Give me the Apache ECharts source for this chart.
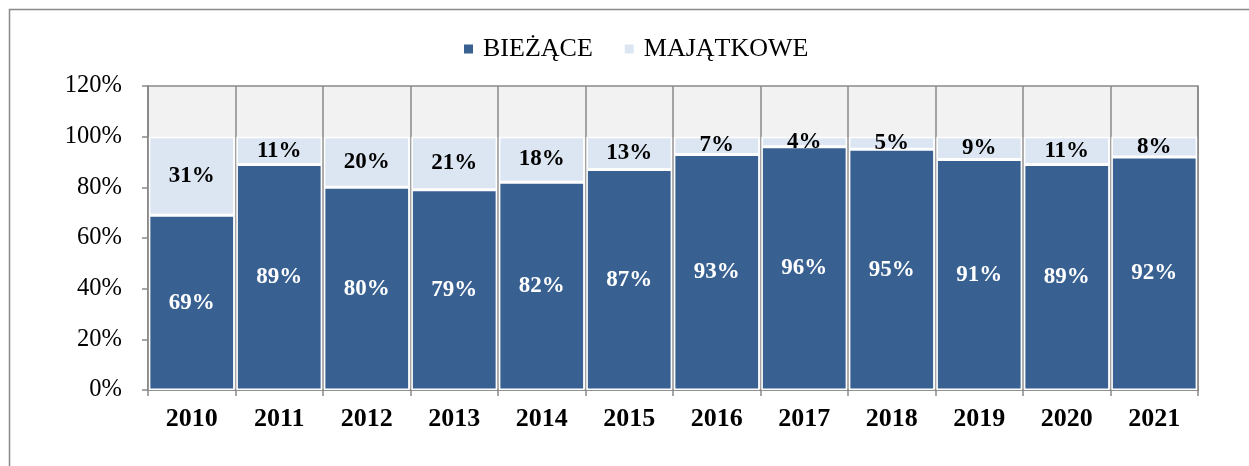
<!DOCTYPE html>
<html>
<head>
<meta charset="utf-8">
<script src="https://cdn.jsdelivr.net/npm/echarts@6/dist/echarts.min.js"></script>
<style>
  html, body { margin: 0; padding: 0; background: #fff; }
  #chart { width: 1249px; height: 466px; }
</style>
</head>
<body>
<div id="chart"></div>
<script>
// lata
var years = ["2010", "2011", "2012", "2013", "2014", "2015", "2016", "2017", "2018", "2019", "2020", "2021"];
// udział wydatków (%)
var biezace = [69, 89, 80, 79, 82, 87, 93, 96, 95, 91, 89, 92];
var majatkowe = [31, 11, 20, 21, 18, 13, 7, 4, 5, 9, 11, 8];
var seriesNames = ["BIEŻĄCE", "MAJĄTKOWE"];

var serif = "'Liberation Serif', 'Times New Roman', serif";
var gridGray = "#898989";

var chart = echarts.init(document.getElementById("chart"));

var option = {
  backgroundColor: "#fff",
  animation: false,
  textStyle: { fontFamily: serif },
  graphic: [
    {
      type: "rect",
      shape: { x: 9.5, y: 9.5, width: 1300, height: 500 },
      style: { fill: "none", stroke: gridGray, lineWidth: 1.5 },
      silent: true,
      z: -1
    }
  ],
  legend: {
    top: 31,
    left: 457,
    itemWidth: 11,
    itemHeight: 11,
    itemGap: 30,
    icon: "rect",
    textStyle: { fontFamily: serif, fontSize: 26, color: "#000", padding: [0, 0, 0, 4] },
    data: seriesNames
  },
  grid: {
    left: 148,
    right: 51,
    top: 86,
    bottom: 76,
    show: true,
    backgroundColor: "#f2f2f2",
    borderColor: gridGray,
    borderWidth: 1.5
  },
  xAxis: {
    type: "category",
    data: years,
    axisLine: { lineStyle: { color: gridGray, width: 1.5 } },
    axisTick: { show: true, length: 6, lineStyle: { color: gridGray, width: 1.5 } },
    splitLine: { show: true, lineStyle: { color: gridGray, width: 1.5 } },
    axisLabel: {
      margin: 16,
      color: "#000",
      fontFamily: serif,
      fontSize: 26,
      fontWeight: "bold"
    }
  },
  yAxis: {
    type: "value",
    min: 0,
    max: 120,
    interval: 20,
    axisLine: { show: true, lineStyle: { color: gridGray, width: 1.5 } },
    axisTick: { show: true, length: 6, lineStyle: { color: gridGray, width: 1.5 } },
    splitLine: { show: false },
    axisLabel: {
      margin: 26,
      color: "#000",
      fontFamily: serif,
      fontSize: 24.5,
      formatter: "{value}%"
    }
  },
  series: [
    {
      name: seriesNames[0],
      type: "bar",
      stack: "total",
      data: biezace,
      barCategoryGap: "2%",
      itemStyle: { color: "#386192", borderColor: "#fff", borderWidth: 1.5 },
      label: {
        show: true,
        position: "inside",
        formatter: "{c}%",
        color: "#fff",
        fontFamily: serif,
        fontSize: 23,
        fontWeight: "bold"
      }
    },
    {
      name: seriesNames[1],
      type: "bar",
      stack: "total",
      data: majatkowe,
      barCategoryGap: "2%",
      itemStyle: { color: "#dce6f2", borderColor: "#fff", borderWidth: 1.5 },
      label: {
        show: true,
        position: "inside",
        formatter: "{c}%",
        color: "#000",
        fontFamily: serif,
        fontSize: 23,
        fontWeight: "bold"
      }
    }
  ]
};

chart.setOption(option);
window.addEventListener("resize", function () {
  chart.resize();
});
</script>
</body>
</html>
